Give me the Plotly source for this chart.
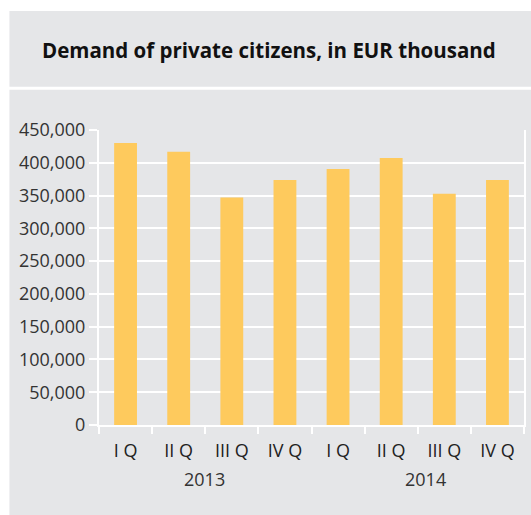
import plotly.graph_objects as go

years = ["2013", "2013", "2013", "2013", "2014", "2014", "2014", "2014"]
quarters = ["I Q", "II Q", "III Q", "IV Q", "I Q", "II Q", "III Q", "IV Q"]
values = [430300, 416700, 347000, 373800, 390500, 407100, 352600, 373800]
y_ticks = [0, 50000, 100000, 150000, 200000, 250000, 300000, 350000, 400000, 450000]
year_labels = ["2013", "2014"]
title_text = "Demand of private citizens, in EUR thousand"

categories = [y + " " + q for y, q in zip(years, quarters)]

GRAY = "#E5E6E8"
BAR = "#FECA5D"
FONT = "Open Sans"

W, H = 531, 515
ml, mr, mt, mb = 99, 5, 130, 90
pw, ph = W - ml - mr, H - mt - mb

def px_x(p):
    return (p - ml) / pw

def px_y(p):
    return (H - mb - p) / ph

fig = go.Figure()
fig.add_trace(go.Bar(
    x=categories,
    y=values,
    marker=dict(color=BAR, line=dict(width=0)),
    width=0.43,
    hoverinfo="y",
))

annotations = [
    dict(text="<b>" + title_text + "</b>", xref="paper", yref="paper",
         x=px_x(270), y=px_y(50), xanchor="center", yanchor="middle",
         showarrow=False, font=dict(family=FONT, size=20.5, color="#111111")),
]
for lbl, xc in zip(year_labels, [205, 427]):
    annotations.append(dict(text=lbl, xref="paper", yref="paper",
                            x=px_x(xc), y=px_y(479), xanchor="center", yanchor="middle",
                            showarrow=False, font=dict(family=FONT, size=18, color="#333333")))

fig.update_layout(
    width=W, height=H,
    margin=dict(l=ml, r=mr, t=mt, b=mb, pad=0),
    paper_bgcolor="white",
    plot_bgcolor=GRAY,
    showlegend=False,
    font=dict(family=FONT, size=18, color="#333333"),
    shapes=[
        dict(type="rect", xref="paper", yref="paper", layer="below",
             x0=px_x(9), x1=px_x(540), y0=px_y(86.7), y1=px_y(11),
             fillcolor=GRAY, line=dict(width=0)),
        dict(type="rect", xref="paper", yref="paper", layer="below",
             x0=px_x(9), x1=px_x(540), y0=px_y(530), y1=px_y(89.7),
             fillcolor=GRAY, line=dict(width=0)),
    ],
    annotations=annotations,
)

fig.update_xaxes(
    type="category",
    tickmode="array",
    tickvals=categories,
    ticktext=quarters,
    tickson="boundaries",
    showgrid=False,
    showline=True, linecolor="white", linewidth=2,
    ticks="outside", ticklen=7, tickcolor="white", tickwidth=2,
    ticklabelstandoff=8,
    tickfont=dict(family=FONT, size=18, color="#222222"),
)
fig.update_yaxes(
    range=[0, 450000],
    tickvals=y_ticks,
    tickformat=",d",
    showgrid=True, gridcolor="white", gridwidth=2,
    showline=True, linecolor="white", linewidth=2, mirror=True,
    ticks="outside", ticklen=8, tickcolor="white", tickwidth=2,
    zeroline=False,
    tickfont=dict(family=FONT, size=18, color="#333333"),
)

fig.write_html("out.html")
